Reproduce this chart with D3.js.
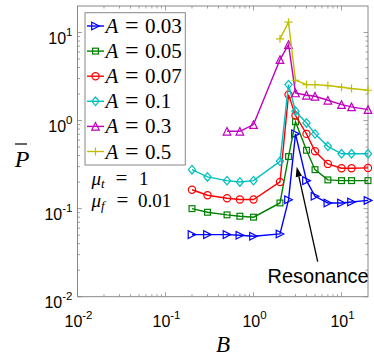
<!DOCTYPE html>
<html><head><meta charset="utf-8">
<script src="https://cdn.jsdelivr.net/npm/d3@7"></script>
<style>body{margin:0;background:#fff}svg{display:block}</style>
</head><body>
<svg id="c" width="374" height="358"></svg>
<script>
const xFull = [0.2, 0.3, 0.5, 0.7, 1, 2, 2.5, 3, 4, 5, 7, 10, 13, 20];
const xMag = [0.5, 0.7, 1, 2, 2.5, 3, 4, 5, 7, 10, 13, 20];
const xYel = [2, 2.5, 3, 4, 5, 7, 10, 13, 20];
const yA003 = [0.0507, 0.0507, 0.0507, 0.0498, 0.0485, 0.0516, 0.126, 0.706, 0.208, 0.138, 0.116, 0.116, 0.119, 0.124];
const yA005 = [0.100, 0.091, 0.085, 0.082, 0.080, 0.116, 0.39, 0.97, 0.46, 0.277, 0.212, 0.208, 0.208, 0.208];
const yA007 = [0.164, 0.142, 0.131, 0.127, 0.127, 0.201, 1.97, 1.14, 0.706, 0.448, 0.322, 0.288, 0.288, 0.29];
const yA01  = [0.277, 0.229, 0.208, 0.201, 0.208, 0.345, 2.56, 1.28, 0.94, 0.706, 0.51, 0.42, 0.42, 0.42];
const yA03  = [0.756, 0.756, 0.90, 4.93, 7.3, 2.06, 1.94, 1.89, 1.70, 1.52, 1.43, 1.33];
const yA05  = [8.48, 13.1, 2.87, 2.56, 2.56, 2.5, 2.39, 2.31, 2.21];
const legendLabels = ["0.03", "0.05", "0.07", "0.1", "0.3", "0.5"];
const majorTicks = [0.01, 0.1, 1, 10];
const majorExp = ["-2", "-1", "0", "1"];
const xDomain = [0.01, 20];
const yDomain = [0.01, 20];

const series = [
  {x: xFull, y: yA003, color: "#0000ff", marker: "triR"},
  {x: xFull, y: yA005, color: "#008000", marker: "square"},
  {x: xFull, y: yA007, color: "#ff0000", marker: "circle"},
  {x: xFull, y: yA01,  color: "#00bfbf", marker: "diamond"},
  {x: xMag,  y: yA03,  color: "#bf00bf", marker: "triU"},
  {x: xYel,  y: yA05,  color: "#bfbf00", marker: "plus"}
];

const L = 77.5, R = 368, T = 6, B = 296.7;
const svg = d3.select("#c");
const xs = d3.scaleLog().domain(xDomain).range([L, R]);
const ys = d3.scaleLog().domain(yDomain).range([B, T]);

// minor ticks
const minors = [];
for (let d = 0.01; d < 20; d *= 10) for (let k = 2; k <= 9; k++) { const v = d * k; if (v < 20) minors.push(v); }
const axisColor = "#888";
const g = svg.append("g");
const tk = (x1, y1, x2, y2) => g.append("line").attr("x1", x1).attr("y1", y1).attr("x2", x2).attr("y2", y2).attr("stroke", axisColor).attr("stroke-width", 0.8);
minors.forEach(v => {
  const x = xs(v), y = ys(v);
  tk(x, B, x, B - 2.5); tk(x, T, x, T + 2.5);
  tk(L, y, L + 2.5, y); tk(R, y, R - 2.5, y);
});
majorTicks.forEach(v => {
  const x = xs(v), y = ys(v);
  tk(x, B, x, B - 4.5); tk(x, T, x, T + 4.5);
  tk(L, y, L + 4.5, y); tk(R, y, R - 4.5, y);
});
g.append("rect").attr("x", L).attr("y", T).attr("width", R - L).attr("height", B - T).attr("fill", "none").attr("stroke", axisColor).attr("stroke-width", 1);

// tick labels
const tf = "'Liberation Sans', Arial, sans-serif";
majorTicks.forEach((v, i) => {
  const t = svg.append("text").attr("x", xs(v) + 1).attr("y", B + 30.5).attr("text-anchor", "middle")
    .attr("font-family", tf).attr("font-size", 16).attr("fill", "#000");
  t.append("tspan").text("10");
  t.append("tspan").attr("dy", -8).attr("font-size", 11.5).text(majorExp[i]);
  const t2 = svg.append("text").attr("x", L - 5).attr("y", ys(v) + 11.5).attr("text-anchor", "end")
    .attr("font-family", tf).attr("font-size", 16).attr("fill", "#000");
  t2.append("tspan").text("10");
  t2.append("tspan").attr("dy", -8).attr("font-size", 11.5).text(majorExp[i]);
});

// axis labels
const sf = "'Liberation Serif', 'Times New Roman', serif";
svg.append("text").attr("x", 223).attr("y", 352).attr("text-anchor", "middle").attr("font-family", sf)
  .attr("font-style", "italic").attr("font-size", 23).text("B");
svg.append("text").attr("x", 22).attr("y", 167).attr("text-anchor", "middle").attr("font-family", sf)
  .attr("font-style", "italic").attr("font-size", 24).text("P");
svg.append("line").attr("x1", 15).attr("x2", 27).attr("y1", 144).attr("y2", 144).attr("stroke", "#000").attr("stroke-width", 1.2);

// markers
function drawMarker(sel, type, cx, cy, color) {
  const s = 3.8;
  let el;
  if (type === "circle") el = sel.append("circle").attr("cx", cx).attr("cy", cy).attr("r", 3.6);
  else if (type === "square") el = sel.append("rect").attr("x", cx - 2.9).attr("y", cy - 2.9).attr("width", 5.8).attr("height", 5.8);
  else if (type === "diamond") el = sel.append("path").attr("d", `M${cx},${cy - 4.3}L${cx + 3.6},${cy}L${cx},${cy + 4.3}L${cx - 3.6},${cy}Z`);
  else if (type === "triR") el = sel.append("path").attr("d", `M${cx + s},${cy}L${cx - s},${cy - s}L${cx - s},${cy + s}Z`);
  else if (type === "triU") el = sel.append("path").attr("d", `M${cx},${cy - s}L${cx + s},${cy + s}L${cx - s},${cy + s}Z`);
  else if (type === "plus") el = sel.append("path").attr("d", `M${cx - 4},${cy}H${cx + 4}M${cx},${cy - 4}V${cy + 4}`);
  el.attr("fill", "none").attr("stroke", color).attr("stroke-width", 1.2);
}

const line = d3.line().x(d => xs(d[0])).y(d => ys(d[1]));
series.forEach(s => {
  const pts = s.x.map((x, i) => [x, s.y[i]]);
  const sg = svg.append("g");
  sg.append("path").attr("d", line(pts)).attr("fill", "none").attr("stroke", s.color).attr("stroke-width", 1.4);
  pts.forEach(p => drawMarker(sg, s.marker, xs(p[0]), ys(p[1]), s.color));
});

// math-like text helper: lhs parts, "=" placed at eqX, value at valX
function mathText(sel, x, y, eqX, valX, lhs, val, fs, eqFs) {
  const t = sel.append("text").attr("x", x).attr("y", y).attr("font-family", sf).attr("font-size", fs).attr("fill", "#000");
  lhs(t);
  t.append("tspan").attr("x", eqX).attr("y", y).attr("font-size", eqFs).text("=");
  t.append("tspan").attr("x", valX).attr("y", y).text(val);
}

// legend
const lg = svg.append("g");
lg.append("rect").attr("x", 85).attr("y", 12.7).attr("width", 100.3).attr("height", 152.3).attr("fill", "#fff").attr("stroke", axisColor).attr("stroke-width", 1);
series.forEach((s, i) => {
  const cy = 26 + i * 25.1;
  lg.append("line").attr("x1", 87).attr("x2", 104).attr("y1", cy).attr("y2", cy).attr("stroke", s.color).attr("stroke-width", 1.4);
  drawMarker(lg, s.marker, 95.5, cy, s.color);
  mathText(lg, 105.5, cy + 7, 125, 145, t => t.append("tspan").attr("font-style", "italic").text("A"), legendLabels[i], 21, 24);
});

// parameters
mathText(svg, 91.5, 184.5, 115.5, 139, t => {
  t.append("tspan").attr("font-style", "italic").text("μ");
  t.append("tspan").attr("font-style", "italic").attr("font-size", 13).attr("dy", 3).text("t");
}, "1", 19, 21);
mathText(svg, 91.5, 207, 116.5, 138, t => {
  t.append("tspan").attr("font-style", "italic").text("μ");
  t.append("tspan").attr("font-style", "italic").attr("font-size", 13).attr("dy", 3).text("f");
}, "0.01", 19, 21);

// annotation
const ax1 = 317.7, ay1 = 261.7, ax2 = 296.7, ay2 = 166.7;
const ang = Math.atan2(ay2 - ay1, ax2 - ax1);
const hl = 10, hw = 3.2;
const bx = ax2 - hl * Math.cos(ang), by = ay2 - hl * Math.sin(ang);
svg.append("line").attr("x1", ax1).attr("y1", ay1).attr("x2", bx).attr("y2", by).attr("stroke", "#000").attr("stroke-width", 1.3);
svg.append("path").attr("d", `M${ax2},${ay2}L${bx + hw * Math.sin(ang)},${by - hw * Math.cos(ang)}L${bx - hw * Math.sin(ang)},${by + hw * Math.cos(ang)}Z`).attr("fill", "#000");
svg.append("text").attr("x", 267.5).attr("y", 282.7).attr("font-family", tf).attr("font-size", 20).attr("fill", "#000").text("Resonance");
</script>
</body></html>
